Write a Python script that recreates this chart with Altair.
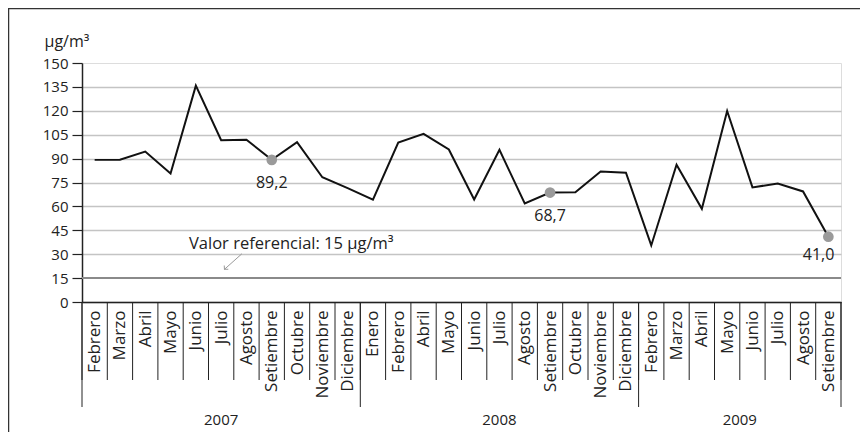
import altair as alt
import pandas as pd

# ---------------- data ----------------
years = ["2007", "2008", "2009"]
months_2007 = ["Febrero", "Marzo", "Abril", "Mayo", "Junio", "Julio", "Agosto",
               "Setiembre", "Octubre", "Noviembre", "Diciembre"]
months_2008 = ["Enero", "Febrero", "Abril", "Mayo", "Junio", "Julio", "Agosto",
               "Setiembre", "Octubre", "Noviembre", "Diciembre"]
months_2009 = ["Febrero", "Marzo", "Abril", "Mayo", "Junio", "Julio", "Agosto",
               "Setiembre"]
values_2007 = [89.2, 89.3, 94.4, 80.6, 135.8, 101.5, 101.9, 89.2, 100.3, 78.3, 71.5]
values_2008 = [64.3, 100.1, 105.5, 95.7, 64.3, 95.5, 61.8, 68.7, 68.9, 81.9, 81.1]
values_2009 = [35.5, 86.1, 58.5, 119.9, 71.9, 74.4, 69.4, 41.0]
highlight_month = "Setiembre"
highlight_labels = ["89,2", "68,7", "41,0"]
y_ticks = list(range(0, 151, 15))
reference_value = 15
reference_label = "Valor referencial: 15 µg/m³"
unit_label = "µg/m³"

FONT = "Open Sans"
INK = "#222222"

# ---------------- tables ----------------
month_groups = [months_2007, months_2008, months_2009]
value_groups = [values_2007, values_2008, values_2009]
rows = []
i = 0
for yr, ms, vs in zip(years, month_groups, value_groups):
    for m, v in zip(ms, vs):
        rows.append({"idx": i, "year": yr, "month": m, "value": v})
        i += 1
df = pd.DataFrame(rows)
n = len(df)
all_months = [r["month"] for r in rows]

hl = df[df["month"] == highlight_month].copy().reset_index(drop=True)
hl["label"] = highlight_labels
hl_mid = hl[hl["year"] != years[-1]]
hl_last = hl[hl["year"] == years[-1]]

month_bounds = pd.DataFrame({"b": [k - 0.5 for k in range(n + 1)]})
yb = [-0.5]
c = 0
centers = []
for ms in month_groups:
    centers.append(c + (len(ms) - 1) / 2)
    c += len(ms)
    yb.append(c - 0.5)
year_bounds = pd.DataFrame({"b": yb})
year_labels = pd.DataFrame({"year": years, "center": centers})

# ---------------- scales & axes ----------------
xscale = alt.Scale(domain=[-0.5, n - 0.5], nice=False, zero=False)
yscale = alt.Scale(domain=[0, 150], nice=False)

label_expr = "[" + ",".join("'" + m + "'" for m in all_months) + "][datum.value]"

x_axis = alt.Axis(values=list(range(n)), labelExpr=label_expr, labelAngle=-90,
                  labelAlign="right", labelBaseline="middle", labelPadding=8,
                  labelFontSize=17, labelFont=FONT, labelColor=INK,
                  labelOverlap=False, labelBound=False, labelFlush=False,
                  ticks=False, grid=False, domainColor=INK, domainWidth=1.5,
                  title=None)
y_axis = alt.Axis(values=y_ticks, labelFontSize=15, labelFont=FONT, labelColor=INK,
                  labelOverlap=False, labelPadding=4, tickSize=10, tickColor=INK,
                  tickWidth=1.2, domainColor=INK, domainWidth=1.5,
                  grid=True, gridColor="#c4c4c4", gridWidth=1.5,
                  gridOpacity={"condition": {"test": "datum.value === 150 || datum.value === 15", "value": 0}, "value": 1},
                  title=unit_label, titleAngle=0, titleAlign="left",
                  titleBaseline="alphabetic", titleX=-38, titleY=-17,
                  titleFont=FONT, titleFontSize=16, titleFontWeight="normal",
                  titleColor=INK)


def X(field):
    return alt.X(field, scale=xscale, axis=x_axis)


def Y(field):
    return alt.Y(field, scale=yscale, axis=y_axis)


def XD(v):
    return alt.XDatum(v, scale=xscale, axis=x_axis, type="quantitative")


def YD(v):
    return alt.YDatum(v, scale=yscale, axis=y_axis, type="quantitative")


line = alt.Chart(df).mark_line(color="#111111", strokeWidth=2).encode(
    x=X("idx:Q"), y=Y("value:Q"))

ref_rule = alt.Chart(pd.DataFrame({"v": [reference_value]})).mark_rule(
    color="#8a8a8a", strokeWidth=2).encode(y=Y("v:Q"))

ref_text = alt.Chart(pd.DataFrame({"t": [reference_label]})).mark_text(
    align="left", baseline="alphabetic", font=FONT, fontSize=16.5, color=INK
).encode(x=XD(3.73), y=YD(33.0), text="t:N")

arrow_line = alt.Chart(pd.DataFrame({"a": [0]})).mark_rule(
    color="#999999", strokeWidth=1).encode(
    x=XD(5.82), y=YD(30.3), x2=alt.X2Datum(5.13), y2=alt.Y2Datum(20.5))
arrow_head = alt.Chart(pd.DataFrame({"a": [0]})).mark_point(
    shape="M-1,1L0,0L1,1", filled=False, color="#999999", strokeWidth=1,
    size=30, angle=222, opacity=1).encode(x=XD(5.13), y=YD(20.5))

points = alt.Chart(hl).mark_circle(color="#9a9a9a", size=115, opacity=1).encode(
    x=X("idx:Q"), y=Y("value:Q"))

labels_mid = alt.Chart(hl_mid).mark_text(
    font=FONT, fontSize=16, color=INK, baseline="middle", dy=23).encode(
    x=X("idx:Q"), y=Y("value:Q"), text="label:N")
labels_last = alt.Chart(hl_last).mark_text(
    font=FONT, fontSize=16, color=INK, baseline="middle", align="right",
    dx=6, dy=18).encode(
    x=X("idx:Q"), y=Y("value:Q"), text="label:N")

month_seps = alt.Chart(month_bounds).mark_rule(
    color=INK, strokeWidth=1, y2Offset=78).encode(
    x=X("b:Q"), y=YD(0), y2=alt.Y2Datum(0))
year_seps = alt.Chart(year_bounds).mark_rule(
    color=INK, strokeWidth=1, y2Offset=105).encode(
    x=X("b:Q"), y=YD(0), y2=alt.Y2Datum(0))
year_text = alt.Chart(year_labels).mark_text(
    font=FONT, fontSize=15, color=INK, baseline="middle", dy=118).encode(
    x=X("center:Q"), y=YD(0), text="year:N")

frame_left = alt.Chart(pd.DataFrame({"a": [0]})).mark_rule(
    color="#333333", strokeWidth=1.5).encode(
    x=alt.value(-73.5), y=alt.value(-55), y2=alt.value(400))
frame_top = alt.Chart(pd.DataFrame({"a": [0]})).mark_rule(
    color="#333333", strokeWidth=1.5).encode(
    x=alt.value(-74), x2=alt.value(800), y=alt.value(-54.5))

chart = alt.layer(
    line, ref_rule, month_seps, year_seps, year_text, ref_text,
    arrow_line, arrow_head, points, labels_mid, labels_last,
    frame_left, frame_top,
).properties(
    width=759, height=239,
    autosize=alt.AutoSizeParams(type="none"),
    padding={"left": 74, "top": 55, "right": 19, "bottom": 130},
).configure_view(stroke=INK, strokeWidth=1.5).configure(background="white")

chart.save("out.html", embed_options={"renderer": "svg", "actions": False})
